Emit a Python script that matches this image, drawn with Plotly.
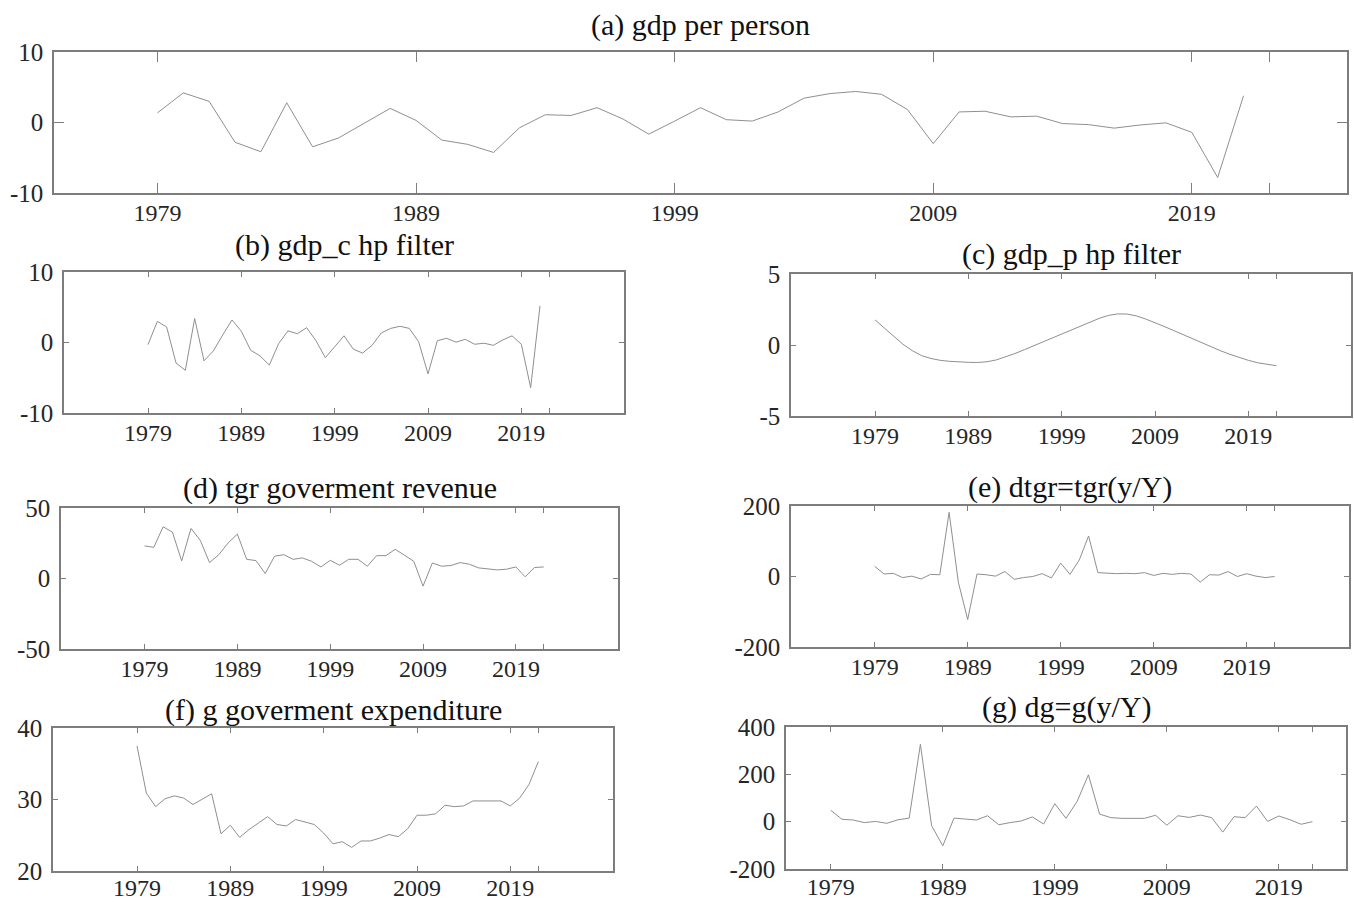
import plotly.graph_objects as go

# ---------------- data ----------------
years_to_2021 = list(range(1979, 2022))
years_to_2022 = list(range(1979, 2023))

gdp_per_person = [1.37, 4.2, 3.0, -2.8, -4.15, 2.8, -3.45, -2.2, -0.1, 2.0,
                  0.3, -2.5, -3.1, -4.25, -0.75, 1.1, 1.0, 2.1, 0.5, -1.65,
                  0.2, 2.1, 0.4, 0.2, 1.5, 3.45, 4.1, 4.4, 4.0, 1.85,
                  -3.0, 1.5, 1.6, 0.8, 0.9, -0.15, -0.3, -0.8, -0.35, -0.05,
                  -1.4, -7.8, 3.8]

gdp_c_hp = [-0.3, 3.0, 2.2, -2.9, -3.95, 3.4, -2.6, -1.2, 1.05, 3.2,
            1.6, -1.1, -1.9, -3.2, -0.15, 1.65, 1.25, 2.1, 0.25, -2.15,
            -0.6, 0.95, -0.95, -1.5, -0.4, 1.35, 2.0, 2.3, 2.0, 0.1,
            -4.45, 0.25, 0.6, 0.05, 0.45, -0.25, -0.1, -0.4, 0.35, 0.95,
            -0.25, -6.4, 5.2]

gdp_p_hp = [1.77, 1.2, 0.6, 0.05, -0.4, -0.75, -0.95, -1.08, -1.15, -1.2,
            -1.22, -1.23, -1.18, -1.05, -0.85, -0.6, -0.33, -0.05, 0.22, 0.5,
            0.78, 1.05, 1.33, 1.6, 1.87, 2.08, 2.19, 2.18, 2.05, 1.83,
            1.58, 1.3, 1.02, 0.73, 0.44, 0.15, -0.13, -0.4, -0.65, -0.88,
            -1.08, -1.25, -1.38, -1.46]

tgr_revenue = [23.1, 22.1, 36.7, 32.9, 12.5, 35.5, 27.1, 11.3, 16.9, 25.2,
               31.5, 13.6, 12.7, 3.5, 15.8, 16.9, 13.6, 14.6, 12.2, 8.2,
               12.9, 9.4, 13.6, 13.6, 8.7, 16.2, 16.2, 20.7, 16.5, 12.2,
               -5.4, 11.0, 8.7, 9.2, 11.3, 10.1, 7.5, 6.6, 6.1, 6.6,
               8.2, 1.2, 7.8, 8.2]

dtgr = [29, 7, 9, -3, 1, -7, 6, 5, 182, -17,
        -122, 7, 5, 1, 14, -8, -3, 0, 8, -4,
        38, 6, 47, 115, 11, 9, 8, 9, 8, 11,
        3, 9, 6, 9, 7, -16, 5, 4, 14, 0,
        8, 1, -3, 0]

g_expenditure = [37.5, 30.9, 29.0, 30.1, 30.5, 30.2, 29.3, 30.0, 30.8, 25.2,
                 26.4, 24.7, 25.8, 26.7, 27.6, 26.5, 26.3, 27.2, 26.8, 26.5,
                 25.3, 23.8, 24.1, 23.3, 24.2, 24.2, 24.6, 25.1, 24.8, 25.9,
                 27.8, 27.8, 28.0, 29.2, 29.0, 29.1, 29.8, 29.8, 29.7, 29.8,
                 29.1, 30.2, 32.1, 35.3]

dg = [48, 10, 7, -4, 1, -7, 8, 15, 327, -17,
      -102, 15, 11, 7, 25, -13, -4, 3, 20, -10,
      76, 14, 86, 198, 32, 17, 14, 14, 14, 27,
      -15, 25, 18, 28, 17, -44, 21, 17, 66, 1,
      24, 8, -11, 0]

titles = ["(a) gdp per person", "(b) gdp_c hp filter", "(c) gdp_p hp filter",
          "(d) tgr goverment revenue", "(e) dtgr=tgr(y/Y)",
          "(f) g goverment expenditure", "(g) dg=g(y/Y)"]

x_tick_vals = [1979, 1989, 1999, 2009, 2019, 2022]
x_tick_text = ["1979", "1989", "1999", "2009", "2019", ""]

# ---------------- layout ----------------
W, H = 1354, 902
FONT = "Liberation Serif, Times New Roman, serif"
AXCOL = "#7d7d7d"
LINECOL = "#8f8f8f"
TICKCOL = "#262626"

panels = [
    dict(x=years_to_2021, y=gdp_per_person, box=(54, 1347, 52, 193), xr=[1975, 2025],
         yr=[-10, 10], yt=[-10, 0, 10], tl=10, ty=25, so=-3),
    dict(x=years_to_2021, y=gdp_c_hp, box=(64, 624, 272, 413), xr=[1970, 2030],
         yr=[-10, 10], yt=[-10, 0, 10], tl=5, ty=245, so=-3),
    dict(x=years_to_2022, y=gdp_p_hp, box=(791, 1351, 274, 416), xr=[1970, 2030],
         yr=[-5, 5], yt=[-5, 0, 5], tl=5, ty=254, so=-3),
    dict(x=years_to_2022, y=tgr_revenue, box=(61, 618, 508, 649), xr=[1970, 2030],
         yr=[-50, 50], yt=[-50, 0, 50], tl=5, ty=488, so=-3),
    dict(x=years_to_2022, y=dtgr, box=(791, 1349, 506, 647), xr=[1970, 2030],
         yr=[-200, 200], yt=[-200, 0, 200], tl=5, ty=487, so=-3),
    dict(x=years_to_2022, y=g_expenditure, box=(53, 613, 728, 871), xr=[1970, 2030],
         yr=[20, 40], yt=[20, 30, 40], tl=5, ty=710, so=-6),
    dict(x=years_to_2022, y=dg, box=(786, 1346, 727, 869), xr=[1975, 2025],
         yr=[-200, 400], yt=[-200, 0, 200, 400], tl=5, ty=707, so=-5),
]

fig = go.Figure()
layout = dict(width=W, height=H, margin=dict(l=0, r=0, t=0, b=0, pad=0, autoexpand=False),
              paper_bgcolor="white", plot_bgcolor="white", showlegend=False,
              font=dict(family=FONT, size=25, color=TICKCOL))
annotations = []
for i, p in enumerate(panels):
    n = "" if i == 0 else str(i + 1)
    x0, x1, y0, y1 = p["box"]
    fig.add_trace(go.Scatter(x=p["x"], y=p["y"], mode="lines",
                             line=dict(color=LINECOL, width=1),
                             xaxis="x" + n, yaxis="y" + n, hoverinfo="skip"))
    layout["xaxis" + n] = dict(domain=[x0 / W, x1 / W], range=p["xr"], anchor="y" + n,
                               tickmode="array", tickvals=x_tick_vals, ticktext=x_tick_text,
                               ticks="inside", ticklen=p["tl"], tickcolor=AXCOL, tickwidth=1,
                               showline=True, linecolor=AXCOL, linewidth=1.5, mirror="ticks",
                               showgrid=False, zeroline=False, automargin=False,
                               ticklabelstandoff=p["so"],
                               tickfont=dict(family=FONT, size=24, color=TICKCOL))
    layout["yaxis" + n] = dict(domain=[1 - y1 / H, 1 - y0 / H], range=p["yr"], anchor="x" + n,
                               tickmode="array", tickvals=p["yt"],
                               ticktext=[str(v) for v in p["yt"]],
                               ticks="inside", ticklen=p["tl"], tickcolor=AXCOL, tickwidth=1,
                               showline=True, linecolor=AXCOL, linewidth=1.5, mirror="ticks",
                               showgrid=False, zeroline=False, automargin=False,
                               ticklabelstandoff=4,
                               tickfont=dict(family=FONT, size=25, color=TICKCOL))
    annotations.append(dict(text=titles[i], x=(x0 + x1) / 2 / W, y=1 - p["ty"] / H,
                            xref="paper", yref="paper", xanchor="center", yanchor="middle",
                            showarrow=False, font=dict(family=FONT, size=30, color="#111111")))
layout["annotations"] = annotations
fig.update_layout(**layout)
fig.write_html("out.html", config={"displayModeBar": False},
               post_script="document.body.style.margin='0px';document.body.style.padding='0px';")
